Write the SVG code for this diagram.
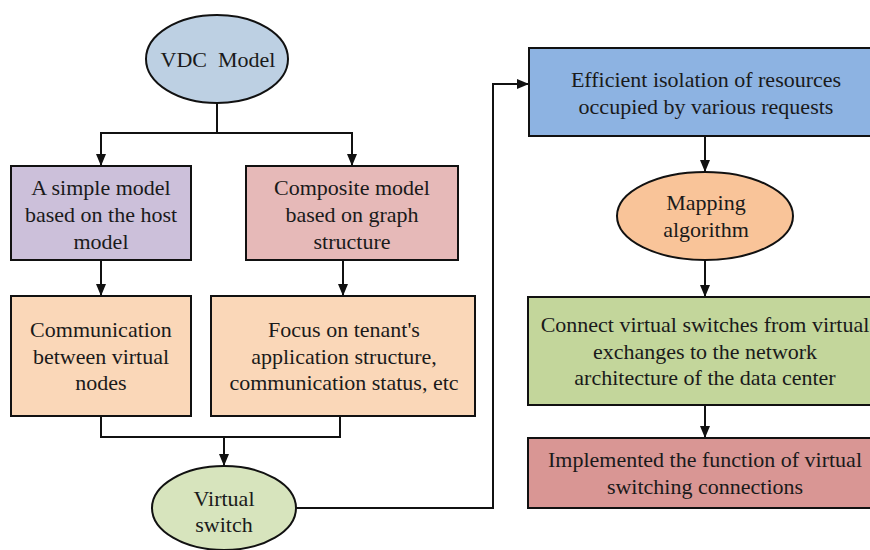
<svg xmlns="http://www.w3.org/2000/svg" width="870" height="550" viewBox="0 0 870 550">
  <defs>
    <marker id="arrow" markerUnits="userSpaceOnUse" markerWidth="12" markerHeight="10" refX="12" refY="5" orient="auto">
      <path d="M0,0 L12,5 L0,10 z" fill="#111"/>
    </marker>
  </defs>
  <rect width="870" height="550" fill="#ffffff"/>

  <!-- connectors -->
  <g id="connectors" fill="none" stroke="#111" stroke-width="2">
    <path d="M217,103 V133 H101 V166" marker-end="url(#arrow)"/>
    <path d="M217,133 H352 V166" marker-end="url(#arrow)"/>
    <path d="M101,260 V296" marker-end="url(#arrow)"/>
    <path d="M343,260 V296" marker-end="url(#arrow)"/>
    <path d="M101,416 V437 H340 V416"/>
    <path d="M224,437 V466" marker-end="url(#arrow)"/>
    <path d="M296,508 H493 V84 H529" marker-end="url(#arrow)"/>
    <path d="M705,136 V172" marker-end="url(#arrow)"/>
    <path d="M705,260 V297" marker-end="url(#arrow)"/>
    <path d="M705,405 V438" marker-end="url(#arrow)"/>
  </g>

  <!-- nodes: shared label settings live on the wrapper -->
  <g font-family="Liberation Serif" font-size="22" text-anchor="middle" fill="#1a1a1a">
    <g id="vdc-model">
      <ellipse cx="217" cy="59" rx="71" ry="44" fill="#bdd0e3" stroke="#111" stroke-width="2"/>
      <text font-family="Liberation Serif" x="218" y="67" xml:space="preserve">VDC  Model</text>
    </g>

    <g id="simple-model">
      <rect x="11" y="166" width="180" height="94" fill="#ccc0da" stroke="#111" stroke-width="2"/>
      <text font-family="Liberation Serif" x="101" y="195">A simple model</text>
      <text font-family="Liberation Serif" x="101" y="222">based on the host</text>
      <text font-family="Liberation Serif" x="101" y="249">model</text>
    </g>

    <g id="composite-model">
      <rect x="246" y="166" width="212" height="94" fill="#e6b9b8" stroke="#111" stroke-width="2"/>
      <text font-family="Liberation Serif" x="352" y="195">Composite model</text>
      <text font-family="Liberation Serif" x="352" y="222">based on graph</text>
      <text font-family="Liberation Serif" x="352" y="249">structure</text>
    </g>

    <g id="communication">
      <rect x="11" y="296" width="180" height="120" fill="#fad7b8" stroke="#111" stroke-width="2"/>
      <text font-family="Liberation Serif" x="101" y="337">Communication</text>
      <text font-family="Liberation Serif" x="101" y="364">between virtual</text>
      <text font-family="Liberation Serif" x="101" y="390">nodes</text>
    </g>

    <g id="tenant-focus">
      <rect x="211" y="296" width="264" height="120" fill="#fad7b8" stroke="#111" stroke-width="2"/>
      <text font-family="Liberation Serif" x="344" y="337">Focus on tenant's</text>
      <text font-family="Liberation Serif" x="344" y="364">application structure,</text>
      <text font-family="Liberation Serif" x="344" y="390">communication status, etc</text>
    </g>

    <g id="virtual-switch">
      <ellipse cx="224" cy="508" rx="72" ry="42" fill="#d7e4bd" stroke="#111" stroke-width="2"/>
      <text font-family="Liberation Serif" x="224" y="506">Virtual</text>
      <text font-family="Liberation Serif" x="224" y="532">switch</text>
    </g>

    <g id="isolation">
      <rect x="529" y="48" width="345" height="88" fill="#8db3e2" stroke="#111" stroke-width="2"/>
      <text font-family="Liberation Serif" x="706" y="87">Efficient isolation of resources</text>
      <text font-family="Liberation Serif" x="706" y="114">occupied by various requests</text>
    </g>

    <g id="mapping">
      <ellipse cx="705" cy="216" rx="88" ry="44" fill="#f9c499" stroke="#111" stroke-width="2"/>
      <text font-family="Liberation Serif" x="706" y="210">Mapping</text>
      <text font-family="Liberation Serif" x="706" y="237">algorithm</text>
    </g>

    <g id="connect-switches">
      <rect x="528" y="297" width="346" height="108" fill="#c3d69b" stroke="#111" stroke-width="2"/>
      <text font-family="Liberation Serif" x="705" y="332">Connect virtual switches from virtual</text>
      <text font-family="Liberation Serif" x="705" y="359">exchanges to the network</text>
      <text font-family="Liberation Serif" x="705" y="385">architecture of the data center</text>
    </g>

    <g id="implemented">
      <rect x="528" y="438" width="346" height="70" fill="#d99694" stroke="#111" stroke-width="2"/>
      <text font-family="Liberation Serif" x="705" y="467">Implemented the function of virtual</text>
      <text font-family="Liberation Serif" x="705" y="494">switching connections</text>
    </g>
  </g>
</svg>
